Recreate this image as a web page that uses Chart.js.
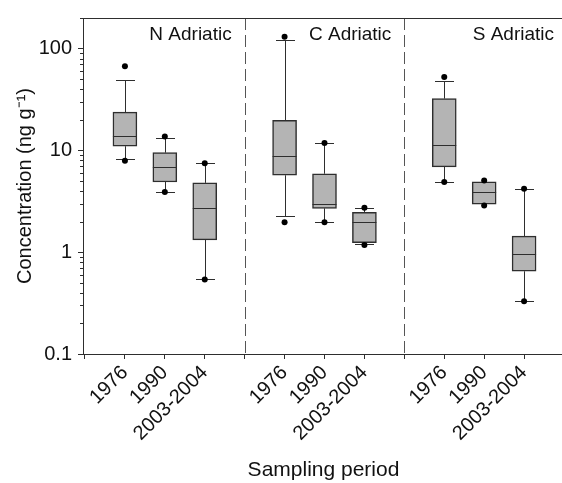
<!DOCTYPE html>
<html lang="en">
<head>
<meta charset="UTF-8">
<title>Concentration by sampling period</title>
<script src="https://cdn.jsdelivr.net/npm/chart.js@4.4.1/dist/chart.umd.min.js"></script>
<style>
  body { margin: 0; overflow: hidden; background: #fff; }
  #wrap { position: relative; width: 568px; height: 483px; }
</style>
</head>
<body>
<div id="wrap"><canvas id="myChart"></canvas></div>
<script>
// data
const regions = ['N Adriatic', 'C Adriatic', 'S Adriatic'];
const periods = ['1976', '1990', '2003-2004'];
// boxes in order N-1976, N-1990, N-2003, C-..., S-...
const whiskerLow  = [8.3, 3.9, 0.54,  2.26, 1.97, 1.2,  4.9, 2.97, 0.33];
const q1          = [11.0, 4.9, 1.32, 5.7, 2.7, 1.24,   6.9, 2.97, 0.65];
const medians     = [13.8, 6.9, 2.7,  8.8, 2.95, 2.0,   11.2, 3.93, 0.955];
const q3          = [23.8, 9.5, 4.8,  19.7, 5.9, 2.47,  32.3, 4.91, 1.44];
const whiskerHigh = [49, 13.1, 7.5,   121, 11.8, 2.7,   47.6, 4.91, 4.2];
const dotsHigh    = [67, 13.7, 7.5,   131, 11.8, 2.74,  52.5, 5.06, 4.2];
const dotsLow     = [7.9, 3.9, 0.54,  1.97, 1.97, 1.18, 4.9, 2.88, 0.33];
const yTicks = [0.1, 1, 10, 100];

// x position of each box: 3 boxes per region, a gap between regions
const xPos = [];
regions.forEach((r, g) => periods.forEach((p, i) => xPos.push(g * 4 + i + 1)));
const tickLabels = {};
xPos.forEach((x, k) => tickLabels[x] = periods[k % 3]);

const boxData = xPos.map((x, k) => ({ x: x, y: [q1[k], q3[k]] }));
const dotData = [];
xPos.forEach((x, k) => {
  dotData.push({ x: x, y: dotsHigh[k] });
  dotData.push({ x: x, y: dotsLow[k] });
});

const ink = '#2e2e2e';
const font = 'Liberation Sans, Arial, sans-serif';

const boxExtras = {
  id: 'boxExtras',
  beforeDatasetsDraw(chart) {
    const { ctx, chartArea, scales: { x, y } } = chart;
    ctx.save();
    // region separators
    ctx.strokeStyle = '#555';
    ctx.lineWidth = 1;
    ctx.setLineDash([12, 5]);
    [4, 8].forEach(v => {
      const px = Math.round(x.getPixelForValue(v)) + 0.5;
      ctx.beginPath();
      ctx.moveTo(px, chartArea.top);
      ctx.lineTo(px, chartArea.bottom);
      ctx.stroke();
    });
    ctx.setLineDash([]);
    // whiskers and caps
    ctx.strokeStyle = ink;
    xPos.forEach((v, k) => {
      const px = Math.round(x.getPixelForValue(v)) + 0.5;
      ctx.beginPath();
      ctx.moveTo(px, y.getPixelForValue(whiskerHigh[k]));
      ctx.lineTo(px, y.getPixelForValue(q3[k]));
      ctx.moveTo(px, y.getPixelForValue(q1[k]));
      ctx.lineTo(px, y.getPixelForValue(whiskerLow[k]));
      [whiskerHigh[k], whiskerLow[k]].forEach(w => {
        if (w === q3[k] || w === q1[k]) return;
        const py = Math.round(y.getPixelForValue(w)) + 0.5;
        ctx.moveTo(px - 9.5, py);
        ctx.lineTo(px + 9.5, py);
      });
      ctx.stroke();
    });
    ctx.restore();
  },
  afterDatasetsDraw(chart) {
    const { ctx, chartArea, scales: { x, y } } = chart;
    ctx.save();
    ctx.strokeStyle = ink;
    ctx.lineWidth = 1;
    // medians
    xPos.forEach((v, k) => {
      const px = x.getPixelForValue(v);
      const py = Math.round(y.getPixelForValue(medians[k])) + 0.5;
      ctx.beginPath();
      ctx.moveTo(px - 12, py);
      ctx.lineTo(px + 12, py);
      ctx.stroke();
    });
    // top frame line
    ctx.beginPath();
    ctx.moveTo(chartArea.left, chartArea.top + 0.5);
    ctx.lineTo(chartArea.right, chartArea.top + 0.5);
    ctx.stroke();
    // minor log ticks
    yTicks.forEach(d => {
      for (let m = 2; m <= 9; m++) {
        const v = d * m;
        if (v > y.max) break;
        const py = Math.round(y.getPixelForValue(v)) + 0.5;
        ctx.beginPath();
        ctx.moveTo(chartArea.left - 3, py);
        ctx.lineTo(chartArea.left, py);
        ctx.stroke();
      }
    });
    // region names
    ctx.fillStyle = '#111';
    ctx.font = '19px ' + font;
    ctx.textAlign = 'right';
    ctx.textBaseline = 'middle';
    const ends = [4, 8, 12];
    regions.forEach((r, g) => {
      ctx.fillText(r, x.getPixelForValue(ends[g]) - (g === 2 ? 10 : 13), chartArea.top + 17);
    });
    ctx.restore();
  }
};

new Chart(document.getElementById('myChart'), {
  type: 'bar',
  data: {
    datasets: [{
      data: boxData,
      backgroundColor: '#b4b4b4',
      borderColor: ink,
      borderWidth: 1.5,
      borderSkipped: false,
      barThickness: 24,
      order: 2
    }, {
      type: 'scatter',
      data: dotData,
      pointRadius: 3,
      pointBackgroundColor: '#000',
      pointBorderColor: '#000',
      pointBorderWidth: 0,
      order: 1
    }]
  },
  options: {
    responsive: true,
    maintainAspectRatio: false,
    animation: false,
    layout: { padding: { left: 0, top: 16, right: 1, bottom: 0 } },
    plugins: { legend: { display: false }, tooltip: { enabled: false } },
    scales: {
      x: {
        type: 'linear',
        min: -0.05,
        max: 12,
        offset: false,
        afterBuildTicks(scale) {
          scale.ticks = [];
          for (let v = 0; v <= 12; v++) scale.ticks.push({ value: v });
        },
        afterFit(scale) {
          scale.height = 129;
          scale.paddingRight = 0;
          scale.paddingLeft = 0;
        },
        grid: { drawOnChartArea: false, offset: false, tickLength: 5, color: ink },
        border: { color: ink, width: 1 },
        ticks: {
          autoSkip: false,
          maxRotation: 45,
          minRotation: 45,
          padding: 2,
          color: '#111',
          font: { family: font, size: 20 },
          callback: v => tickLabels[v] || ''
        },
        title: {
          display: true,
          text: 'Sampling period',
          color: '#111',
          font: { family: font, size: 21 },
          padding: { top: 0, bottom: 0 }
        }
      },
      y: {
        type: 'logarithmic',
        min: 0.1,
        max: 200,
        afterBuildTicks(scale) {
          scale.ticks = yTicks.map(v => ({ value: v }));
        },
        afterFit(scale) { scale.width = 83; },
        grid: { drawOnChartArea: false, tickLength: 5, color: ink },
        border: { color: ink, width: 1 },
        ticks: {
          padding: 6,
          color: '#111',
          font: { family: font, size: 20 },
          callback: v => String(v)
        },
        title: {
          display: true,
          text: 'Concentration (ng g\u207B\u00B9)',
          color: '#111',
          font: { family: font, size: 20 },
          padding: { top: 13, bottom: 0 }
        }
      }
    }
  },
  plugins: [boxExtras]
});
</script>
</body>
</html>
